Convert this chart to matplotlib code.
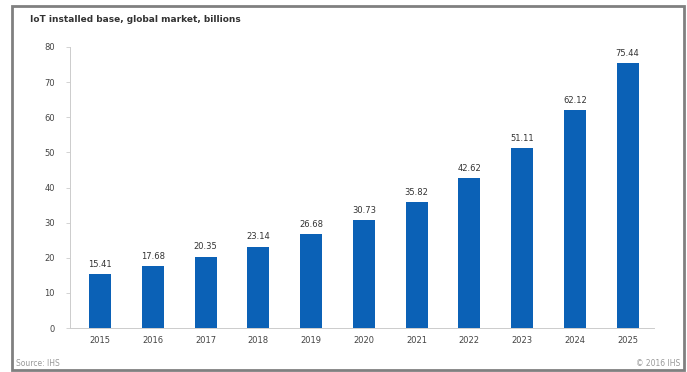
import matplotlib as mpl
mpl.use('Agg')
import matplotlib.pyplot as plt
from matplotlib.patches import Rectangle

years = ['2015', '2016', '2017', '2018', '2019', '2020', '2021', '2022', '2023', '2024', '2025']
values = [15.41, 17.68, 20.35, 23.14, 26.68, 30.73, 35.82, 42.62, 51.11, 62.12, 75.44]
yticks = [0, 10, 20, 30, 40, 50, 60, 70, 80]

fig = plt.figure(figsize=(6.87, 3.72), dpi=100, facecolor='w')
ax = fig.add_axes([70/687, 1-328/372, (654-70)/687, (328-47)/372])

xs = range(len(years))
ax.bar(xs, values, width=0.42, color='#0b61b6')
for x, v in zip(xs, values):
    ax.text(x, v + 1.5, '{:.2f}'.format(v), ha='center', va='bottom', fontsize=6, color='#333333')

ax.set_xlim(-0.57, 10.5)
ax.set_ylim(0, 80)
ax.set_yticks(yticks)
ax.set_xticks(list(xs))
ax.set_xticklabels(years)
ax.tick_params(axis='both', labelsize=6, colors='#444444', length=3, width=0.6)
ax.tick_params(axis='x', length=0, pad=6)
ax.tick_params(axis='y', color='#cccccc', pad=8)
for s in ['top', 'right']:
    ax.spines[s].set_visible(False)
ax.spines['left'].set_color('#cccccc')
ax.spines['bottom'].set_color('#cccccc')
ax.spines['left'].set_linewidth(0.7)
ax.spines['bottom'].set_linewidth(0.7)

fig.text(30/687, 1-20/372, 'IoT installed base, global market, billions', fontsize=6.5,
         fontweight='bold', color='#333333', va='center')
fig.text(16/687, 1-364/372, 'Source: IHS', fontsize=5.5, color='#999999', va='center')
fig.text(680/687, 1-364/372, '© 2016 IHS', fontsize=5.5, color='#999999', va='center', ha='right')

fig.patches.append(Rectangle((12/687, 1-370/372), (684-12)/687, (370-6)/372,
                             transform=fig.transFigure, fill=False,
                             edgecolor='#808080', linewidth=2))

plt.savefig('out.png', dpi=100)
